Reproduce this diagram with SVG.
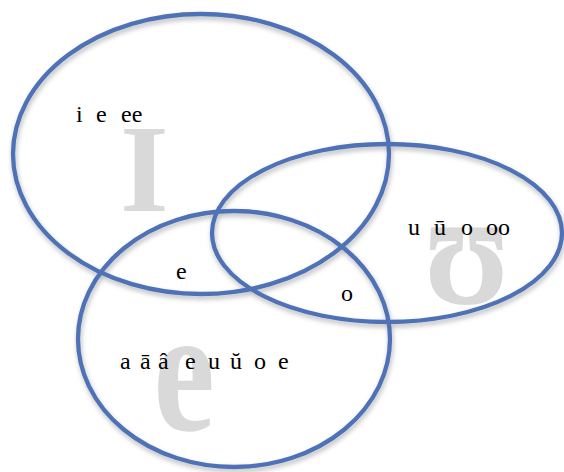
<svg xmlns="http://www.w3.org/2000/svg" width="564" height="472" viewBox="0 0 564 472">
<defs>
<filter id="sh" x="-10%" y="-10%" width="120%" height="125%">
<feDropShadow dx="1" dy="3" stdDeviation="2.5" flood-color="#000" flood-opacity="0.28"/>
</filter>
</defs>
<style>
.big{font-family:"Liberation Serif",serif;font-weight:bold;fill:#d9d9d9}
.lbl{font-family:"Liberation Serif",serif;font-size:24px;fill:#000}
.ring{fill:none;stroke:#5072b7;stroke-width:4.3}
</style>
<rect width="564" height="472" fill="#fff"/>
<g id="glyphs">
<text class="big" x="120" y="211" font-size="125">I</text>
<text class="big" transform="translate(467,303) scale(0.84,1)" x="0" y="0" text-anchor="middle" font-size="166" font-weight="normal">ʊ</text>
<text class="big" transform="translate(184,389) scale(-0.78,-1)" x="0" y="41" text-anchor="middle" font-size="177">ə</text>
</g>
<g id="connectors" filter="url(#sh)">
<ellipse id="setI" class="ring" cx="201" cy="154" rx="188" ry="140"/>
<ellipse id="setU" class="ring" cx="387" cy="233" rx="175" ry="89"/>
<ellipse id="setSchwa" class="ring" cx="234" cy="339" rx="156" ry="128"/>
</g>
<g id="labels">
<text class="lbl" y="122"><tspan x="76">i</tspan><tspan x="96">e</tspan><tspan x="121">ee</tspan></text>
<text class="lbl" y="235"><tspan x="408">u</tspan><tspan x="434">ū</tspan><tspan x="461">o</tspan><tspan x="486">oo</tspan></text>
<text class="lbl" x="176" y="279">e</text>
<text class="lbl" x="341" y="301">o</text>
<text class="lbl" y="369"><tspan x="120">a</tspan><tspan x="140">ā</tspan><tspan x="158">â</tspan><tspan x="185">e</tspan><tspan x="208">u</tspan><tspan x="230">ŭ</tspan><tspan x="254">o</tspan><tspan x="278">e</tspan></text>
</g>
</svg>
